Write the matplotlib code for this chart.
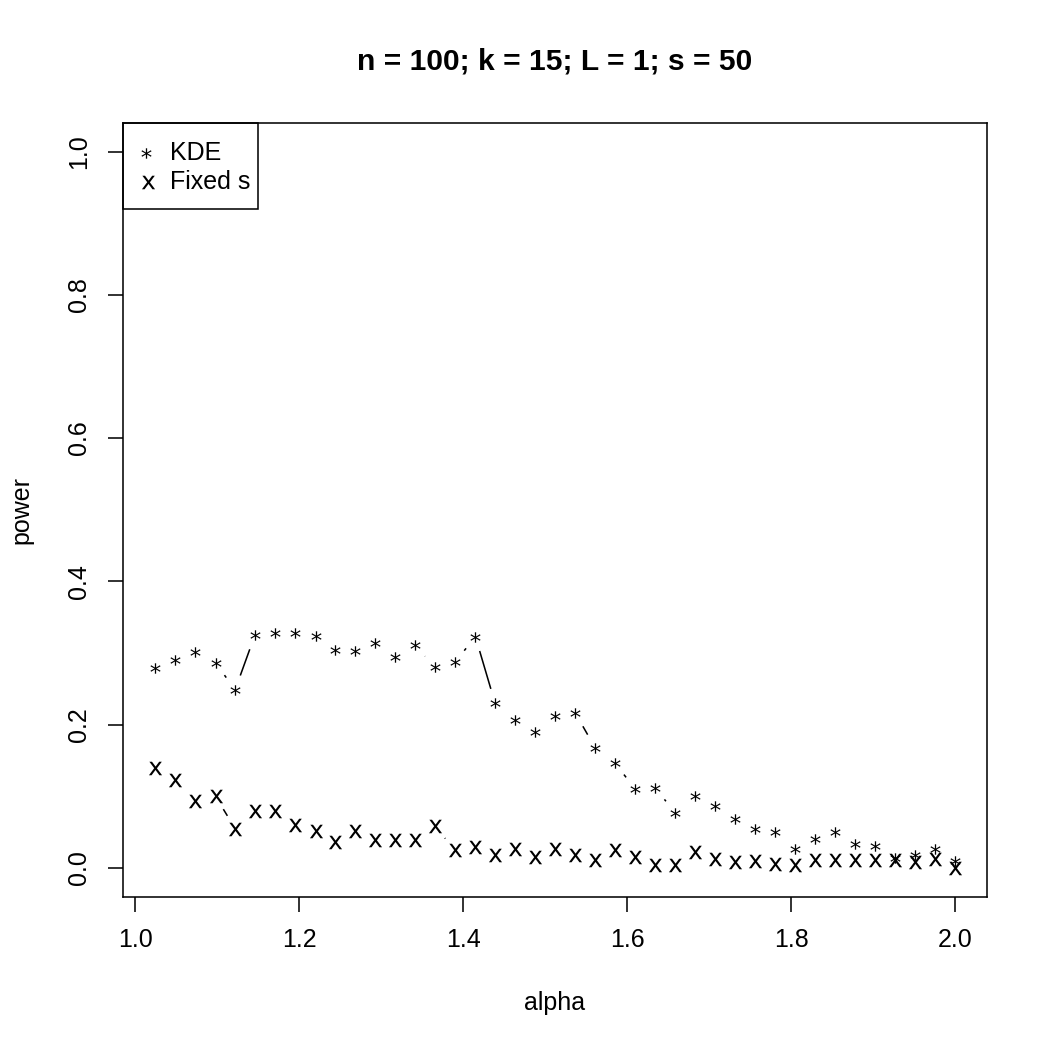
import numpy as np
import matplotlib
matplotlib.use('Agg')
import matplotlib.pyplot as plt
from matplotlib.patches import Rectangle

# alpha grid (41 values between 1 and 2)
alpha = [1.024, 1.049, 1.073, 1.098, 1.122, 1.146, 1.171, 1.195, 1.220, 1.244,
         1.268, 1.293, 1.317, 1.341, 1.366, 1.390, 1.415, 1.439, 1.463, 1.488,
         1.512, 1.537, 1.561, 1.585, 1.610, 1.634, 1.659, 1.683, 1.707, 1.732,
         1.756, 1.780, 1.805, 1.829, 1.854, 1.878, 1.902, 1.927, 1.951, 1.976,
         2.000]

# power of the KDE based test
power_kde = [0.279, 0.290, 0.302, 0.286, 0.249, 0.325, 0.328, 0.328, 0.324, 0.304,
             0.303, 0.314, 0.295, 0.311, 0.280, 0.287, 0.323, 0.230, 0.207, 0.190,
             0.212, 0.216, 0.168, 0.147, 0.110, 0.112, 0.077, 0.101, 0.086, 0.068,
             0.055, 0.050, 0.026, 0.041, 0.050, 0.034, 0.031, 0.014, 0.018, 0.026,
             0.010]

# power with fixed s
power_fixed = [0.139, 0.123, 0.093, 0.100, 0.055, 0.079, 0.079, 0.060, 0.052, 0.037,
               0.051, 0.039, 0.039, 0.039, 0.058, 0.025, 0.030, 0.018, 0.026, 0.015,
               0.027, 0.018, 0.011, 0.025, 0.016, 0.004, 0.004, 0.023, 0.012, 0.008,
               0.010, 0.006, 0.004, 0.011, 0.011, 0.011, 0.011, 0.011, 0.008, 0.012,
               0.000]

labels = ['KDE', 'Fixed s']
title = 'n = 100; k = 15; L = 1; s = 50'

plt.rcParams['font.family'] = ['Liberation Sans', 'DejaVu Sans']

fig = plt.figure(figsize=(7, 7), dpi=150)
ax = fig.add_axes([0.117, 0.146, 0.823, 0.737])

x = np.array(alpha)
xr = x.max() - x.min()
ax.set_xlim(x.min() - 0.04 * xr, x.max() + 0.04 * xr)
ax.set_ylim(-0.04, 1.04)


def gapped_lines(xs, ys, gap_px=15):
    # R type="b": segments between points, leaving a gap around each point
    pts = ax.transData.transform(np.column_stack([xs, ys]))
    inv = ax.transData.inverted()
    for p0, p1 in zip(pts[:-1], pts[1:]):
        d = p1 - p0
        dist = np.hypot(*d)
        if dist <= 2 * gap_px:
            continue
        u = d / dist
        a = inv.transform(p0 + u * gap_px)
        b = inv.transform(p1 - u * gap_px)
        ax.plot([a[0], b[0]], [a[1], b[1]], color='black', lw=0.75,
                solid_capstyle='butt')


gapped_lines(x, power_kde)
gapped_lines(x, power_fixed)

star = r'$*$'
cross = r'$\mathsf{x}$'
star_kw = dict(linestyle='none', marker=star, markersize=5, color='black',
               markeredgewidth=0)
cross_kw = dict(linestyle='none', marker=cross, markersize=6.5, color='black',
                markeredgewidth=0)
ax.plot(x, power_kde, **star_kw)
ax.plot(x, power_fixed, **cross_kw)

# legend box, R style
ax.add_patch(Rectangle((0, 0.889), 0.156, 0.111, transform=ax.transAxes,
                       fill=False, edgecolor='black', lw=0.75, clip_on=False))
ax.plot([0.027], [0.961], transform=ax.transAxes, **star_kw)
ax.plot([0.029], [0.924], transform=ax.transAxes, **cross_kw)
ax.text(0.054, 0.961, labels[0], transform=ax.transAxes, fontsize=12,
        va='center', ha='left')
ax.text(0.054, 0.924, labels[1], transform=ax.transAxes, fontsize=12,
        va='center', ha='left')

ax.set_xticks([1.0, 1.2, 1.4, 1.6, 1.8, 2.0])
ax.set_xticklabels(['1.0', '1.2', '1.4', '1.6', '1.8', '2.0'])
ax.set_yticks([0.0, 0.2, 0.4, 0.6, 0.8, 1.0])
ax.set_yticklabels(['0.0', '0.2', '0.4', '0.6', '0.8', '1.0'], rotation=90,
                   va='center')
ax.tick_params(direction='out', length=7.2, width=0.75, pad=8, labelsize=12)
for sp in ax.spines.values():
    sp.set_linewidth(0.75)

ax.set_xlabel('alpha', fontsize=12)
ax.xaxis.label.set_va('center')
ax.xaxis.set_label_coords(0.5, -0.137)
ax.set_ylabel('power', fontsize=12)
ax.yaxis.label.set_va('center')
ax.yaxis.set_label_coords(-0.117, 0.5)

# R centres the main title over the plot region
fig.text(555 / 1050, 1 - 61 / 1050, title, fontsize=14.4, fontweight='bold',
         ha='center', va='center')

fig.savefig('out.png', dpi=150)
